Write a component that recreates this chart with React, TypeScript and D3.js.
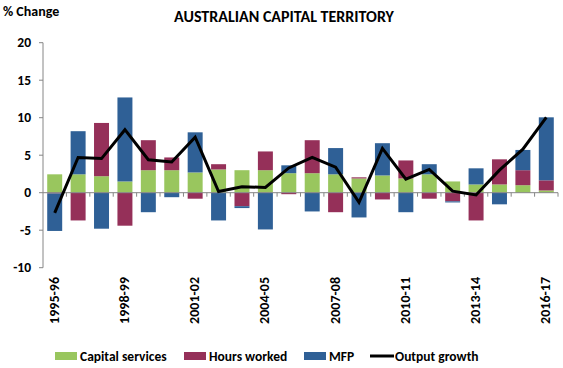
import React from 'react';
import * as d3 from 'd3';

const years = [
  '1995-96', '1996-97', '1997-98', '1998-99', '1999-00', '2000-01', '2001-02', '2002-03',
  '2003-04', '2004-05', '2005-06', '2006-07', '2007-08', '2008-09', '2009-10', '2010-11',
  '2011-12', '2012-13', '2013-14', '2014-15', '2015-16', '2016-17',
];
const capitalServices = [2.45, 2.45, 2.2, 1.5, 3.0, 3.0, 2.7, 3.1, 3.0, 3.0, 2.6, 2.6, 2.45, 1.9, 2.3, 1.9, 2.45, 1.5, 1.1, 1.1, 1.0, 0.3];
const hoursWorked = [-0.1, -3.7, 7.1, -4.4, 4.0, 1.7, -0.8, 0.7, -1.8, 2.5, -0.2, 4.4, -2.6, 0.15, -0.9, 2.4, -0.8, -1.15, -3.7, 3.35, 2.0, 1.35];
const mfp = [-5.0, 5.75, -4.8, 11.2, -2.6, -0.6, 5.35, -3.7, -0.25, -4.9, 1.05, -2.5, 3.5, -3.3, 4.3, -2.6, 1.35, -0.15, 2.15, -1.55, 2.7, 8.4];
const outputGrowth = [-2.7, 4.7, 4.55, 8.4, 4.4, 4.1, 7.4, 0.15, 0.8, 0.7, 3.3, 4.7, 3.4, -1.3, 5.9, 1.8, 3.1, 0.2, -0.3, 3.0, 5.8, 10.05];
const yTicks = [-10, -5, 0, 5, 10, 15, 20];

const seriesNames = ['Capital services', 'Hours worked', 'MFP'];
const seriesColors = ['#99C65E', '#953059', '#2F6096'];
const FONT = 'Carlito, "Liberation Sans Narrow", "Liberation Sans", Arial, sans-serif';

const W = 563;
const H = 368;
const left = 43;
const right = 558;
const top = 42.7;
const bottom = 267.7;

export default function App() {
  const x = d3.scaleBand().domain(years).range([left, right]).paddingInner(0.36).paddingOuter(0.18);
  const xTick = d3.scaleBand().domain(years).range([left, right]);
  const y = d3.scaleLinear().domain([-10, 20]).range([bottom, top]);

  // 正负分别堆叠
  const stackData = years.map((yr, i) => ({ yr, v: [capitalServices[i], hoursWorked[i], mfp[i]] }));
  const stacked = d3
    .stack<any, number>()
    .keys([0, 1, 2])
    .value((d, k) => d.v[k])
    .offset(d3.stackOffsetDiverging)(stackData);

  const line = d3
    .line<number>()
    .x((d, i) => (xTick(years[i]) as number) + xTick.bandwidth() / 2)
    .y((d) => y(d));

  const legendItems = [
    { name: seriesNames[0], color: seriesColors[0], x: 55 },
    { name: seriesNames[1], color: seriesColors[1], x: 184 },
    { name: seriesNames[2], color: seriesColors[2], x: 304 },
  ];

  return (
    <svg width={W} height={H} style={{ position: 'absolute', left: 0, top: 0, background: '#fff' }} fontFamily={FONT}>
      <text x={3} y={16} fontSize={14} fontWeight="bold">% Change</text>
      <text x={284} y={22} fontSize={16} fontWeight="bold" textAnchor="middle">AUSTRALIAN CAPITAL TERRITORY</text>

      {/* bars */}
      {stacked.map((s, k) => (
        <g key={k} fill={seriesColors[k]}>
          {s.map((d, i) => (
            <rect
              key={i}
              x={x(years[i])}
              width={x.bandwidth()}
              y={y(Math.max(d[0], d[1]))}
              height={Math.abs(y(d[0]) - y(d[1]))}
            />
          ))}
        </g>
      ))}

      {/* y axis */}
      <line x1={left} x2={left} y1={top} y2={bottom} stroke="#868686" />
      {yTicks.map((t) => (
        <g key={t}>
          <line x1={left - 4} x2={left} y1={y(t)} y2={y(t)} stroke="#868686" />
          <text x={31} y={y(t)} dy="0.35em" fontSize={13.5} fontWeight="bold" textAnchor="end">{t}</text>
        </g>
      ))}

      {/* x axis at zero */}
      <line x1={left} x2={right} y1={y(0)} y2={y(0)} stroke="#868686" />
      {years.map((yr) => (
        <line key={yr} x1={(xTick(yr) as number) + xTick.bandwidth()} x2={(xTick(yr) as number) + xTick.bandwidth()} y1={y(0)} y2={y(0) + 4} stroke="#868686" />
      ))}
      {years.map((yr, i) =>
        i % 3 === 0 ? (
          <text
            key={yr}
            transform={`translate(${(xTick(yr) as number) + xTick.bandwidth() / 2 + 4},277) rotate(-90)`}
            fontSize={14}
            fontWeight="bold"
            textAnchor="end"
          >
            {yr}
          </text>
        ) : null,
      )}

      <path d={line(outputGrowth) as string} fill="none" stroke="#000" strokeWidth={3} strokeLinejoin="miter" />

      {/* legend */}
      {legendItems.map((l) => (
        <g key={l.name}>
          <rect x={l.x} y={352} width={22} height={8} fill={l.color} />
          <text x={l.x + 25} y={361} fontSize={13.5} fontWeight="bold">{l.name}</text>
        </g>
      ))}
      <line x1={370} x2={394} y1={356} y2={356} stroke="#000" strokeWidth={3} />
      <text x={395} y={361} fontSize={13.5} fontWeight="bold">Output growth</text>
    </svg>
  );
}
